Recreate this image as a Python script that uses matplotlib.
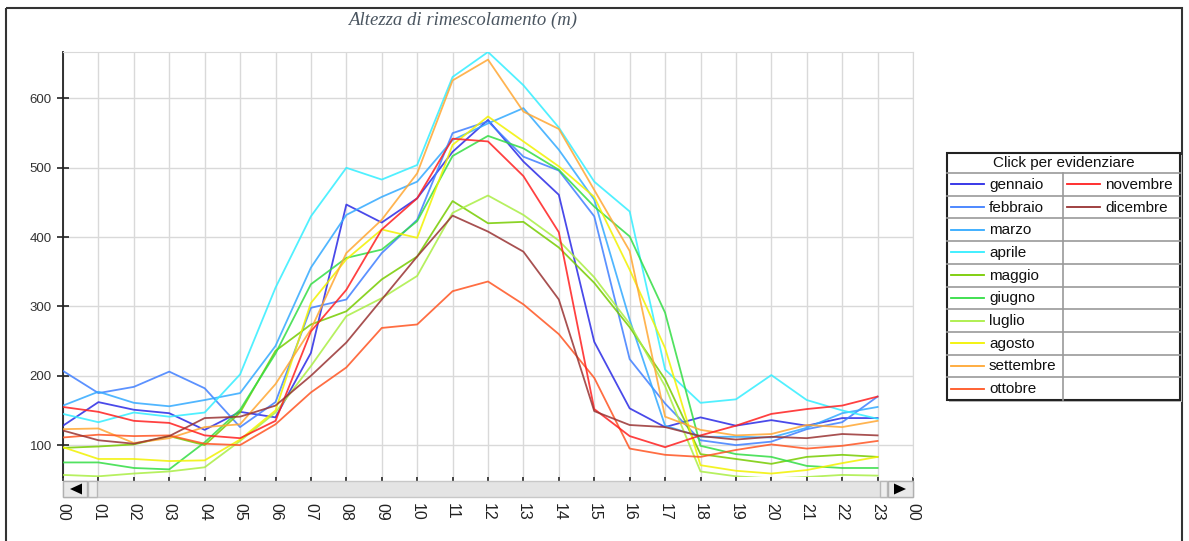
import matplotlib
matplotlib.use('Agg')
import matplotlib.pyplot as plt
from matplotlib.patches import Rectangle, Polygon

# -----------------------------
# data
# -----------------------------
hours = list(range(24))
tick_labels = ['00', '01', '02', '03', '04', '05', '06', '07', '08', '09', '10', '11',
               '12', '13', '14', '15', '16', '17', '18', '19', '20', '21', '22', '23', '00']
y_ticks = [100, 200, 300, 400, 500, 600]

months = ['gennaio', 'febbraio', 'marzo', 'aprile', 'maggio', 'giugno',
          'luglio', 'agosto', 'settembre', 'ottobre', 'novembre', 'dicembre']
colors = ['#2a2ae6', '#3f7fff', '#33aaff', '#33eeff', '#77cc00', '#33dd44',
          '#aaee44', '#f2f200', '#ffa733', '#ff5522', '#ff2020', '#993333']

gennaio = [128, 162, 151, 146, 122, 148, 140, 233, 447, 421, 456, 523,
           569, 509, 461, 249, 153, 126, 140, 128, 136, 128, 139, 139]
febbraio = [207, 175, 184, 206, 182, 126, 162, 298, 310, 377, 425, 550,
            567, 516, 496, 430, 224, 160, 107, 100, 105, 123, 133, 170]
marzo = [157, 177, 161, 156, 165, 175, 243, 356, 432, 458, 480, 540,
         564, 586, 526, 454, 281, 128, 112, 112, 111, 125, 146, 155]
aprile = [145, 133, 147, 141, 147, 202, 327, 430, 500, 483, 504, 631,
          667, 619, 558, 480, 437, 209, 161, 166, 201, 165, 150, 138]
maggio = [96, 98, 101, 113, 100, 147, 236, 274, 293, 339, 372, 452,
          420, 422, 385, 334, 270, 195, 87, 80, 73, 83, 86, 83]
giugno = [75, 75, 67, 65, 104, 151, 232, 332, 370, 382, 423, 517,
          546, 528, 497, 444, 401, 291, 99, 87, 83, 70, 67, 67]
luglio = [57, 55, 59, 62, 68, 106, 147, 214, 286, 312, 344, 435,
          460, 432, 395, 342, 275, 185, 62, 55, 52, 54, 57, 56]
agosto = [97, 80, 80, 77, 78, 108, 150, 305, 368, 411, 399, 533,
          574, 538, 502, 458, 353, 240, 71, 63, 59, 64, 74, 83]
settembre = [123, 124, 103, 110, 126, 130, 188, 267, 377, 425, 492, 626,
             656, 581, 556, 468, 380, 141, 122, 114, 116, 129, 126, 135]
ottobre = [111, 115, 113, 114, 102, 100, 130, 176, 212, 269, 274, 322,
           336, 303, 260, 197, 95, 86, 83, 93, 101, 95, 99, 106]
novembre = [155, 148, 135, 132, 114, 110, 135, 264, 324, 411, 456, 542,
            538, 488, 407, 152, 113, 97, 114, 128, 145, 152, 157, 170]
dicembre = [121, 107, 102, 113, 139, 141, 157, 200, 248, 310, 372, 431,
            408, 379, 310, 149, 129, 126, 113, 108, 112, 110, 116, 114]

series = [gennaio, febbraio, marzo, aprile, maggio, giugno,
          luglio, agosto, settembre, ottobre, novembre, dicembre]

W, H = 1189, 541
fig = plt.figure(figsize=(W / 100, H / 100), dpi=100)
fig.patch.set_facecolor('white')

# -----------------------------
# main plot
# -----------------------------
ax = fig.add_axes([63 / W, 1 - 477 / H, 850 / W, 425 / H])
for vals, c in zip(series, colors):
    ax.plot(hours, vals, color=c, lw=1.3, alpha=0.85, zorder=3)

ax.set_xlim(0, 24)
ax.set_ylim(54, 667)
ax.set_xticks(range(25))
ax.set_xticklabels(tick_labels, rotation=-90, fontsize=11.5, color='#222222',
                   family='Liberation Sans')
ax.set_yticks(y_ticks)
ax.set_yticklabels([str(v) for v in y_ticks], fontsize=9.5, color='#333333',
                   family='Liberation Sans')
ax.grid(True, color='#d9d9d9', lw=1.0, zorder=0)
ax.tick_params(axis='x', length=3, width=1.2, color='#222222', pad=16)
ax.tick_params(axis='y', direction='inout', length=8, width=1.2, color='#222222', pad=4)
ax.spines['left'].set_color('#222222')
ax.spines['left'].set_linewidth(1.3)
for s in ['top', 'right']:
    ax.spines[s].set_color('#d9d9d9')
ax.spines['bottom'].set_visible(False)

# -----------------------------
# overlay in pixel coordinates
# -----------------------------
ov = fig.add_axes([0, 0, 1, 1], zorder=5)
ov.set_xlim(0, W)
ov.set_ylim(H, 0)
ov.axis('off')
ov.patch.set_alpha(0)

# outer frame
ov.add_patch(Rectangle((6, 8), 1176, 560, fill=False, ec='#333333', lw=1.5))

# title
ov.text(463, 20, 'Altezza di rimescolamento (m)', ha='center', va='center',
        fontsize=13.5, style='italic', family='Liberation Serif', color='#4a5560')

# scrollbar
ov.add_patch(Rectangle((63, 481), 850, 16, fc='#e4e4e4', ec='#c8c8c8', lw=1))
ov.add_patch(Rectangle((63, 481), 24, 16, fc='#e9e9e9', ec='#b0b0b0', lw=1))
ov.add_patch(Rectangle((88, 481), 9, 16, fc='#eeeeee', ec='#b8b8b8', lw=1))
ov.add_patch(Polygon([(70, 489), (82, 483.5), (82, 494.5)], closed=True, fc='black'))
ov.add_patch(Rectangle((880, 481), 7, 16, fc='#eeeeee', ec='#b8b8b8', lw=1))
ov.add_patch(Rectangle((888, 481), 25, 16, fc='#e9e9e9', ec='#b0b0b0', lw=1))
ov.add_patch(Polygon([(906, 489), (894, 483.5), (894, 494.5)], closed=True, fc='black'))

# legend table
lx0, lx1, lmid = 947, 1180, 1063
ly0, ltitle, row_h = 153, 173, 22.7
ly1 = ltitle + row_h * 10
ov.add_patch(Rectangle((lx0 + 2, ly0 + 2), lx1 - lx0, ly1 - ly0, fc='#bbbbbb', ec='none'))
ov.add_patch(Rectangle((lx0, ly0), lx1 - lx0, ly1 - ly0, fc='white', ec='#222222', lw=1.5))
ov.text((lx0 + lx1) / 2, (ly0 + ltitle) / 2 + 0.5, 'Click per evidenziare', ha='center',
        va='center', fontsize=11, family='Liberation Sans', color='#111111')
for i in range(10):
    yy = ltitle + row_h * i
    ov.plot([lx0, lx1], [yy, yy], color='#999999', lw=1.2)
ov.plot([lmid, lmid], [ltitle, ly1], color='#999999', lw=1.2)
for i, (m, c) in enumerate(zip(months, colors)):
    col, row = (0, i) if i < 10 else (1, i - 10)
    x0 = lx0 + 4 if col == 0 else lmid + 4
    yc = ltitle + row_h * (row + 0.5)
    ov.plot([x0, x0 + 33], [yc, yc], color=c, lw=1.3)
    ov.text(x0 + 38, yc + 0.5, m, ha='left', va='center', fontsize=11,
            family='Liberation Sans', color='#111111')

fig.savefig('out.png', dpi=100)
